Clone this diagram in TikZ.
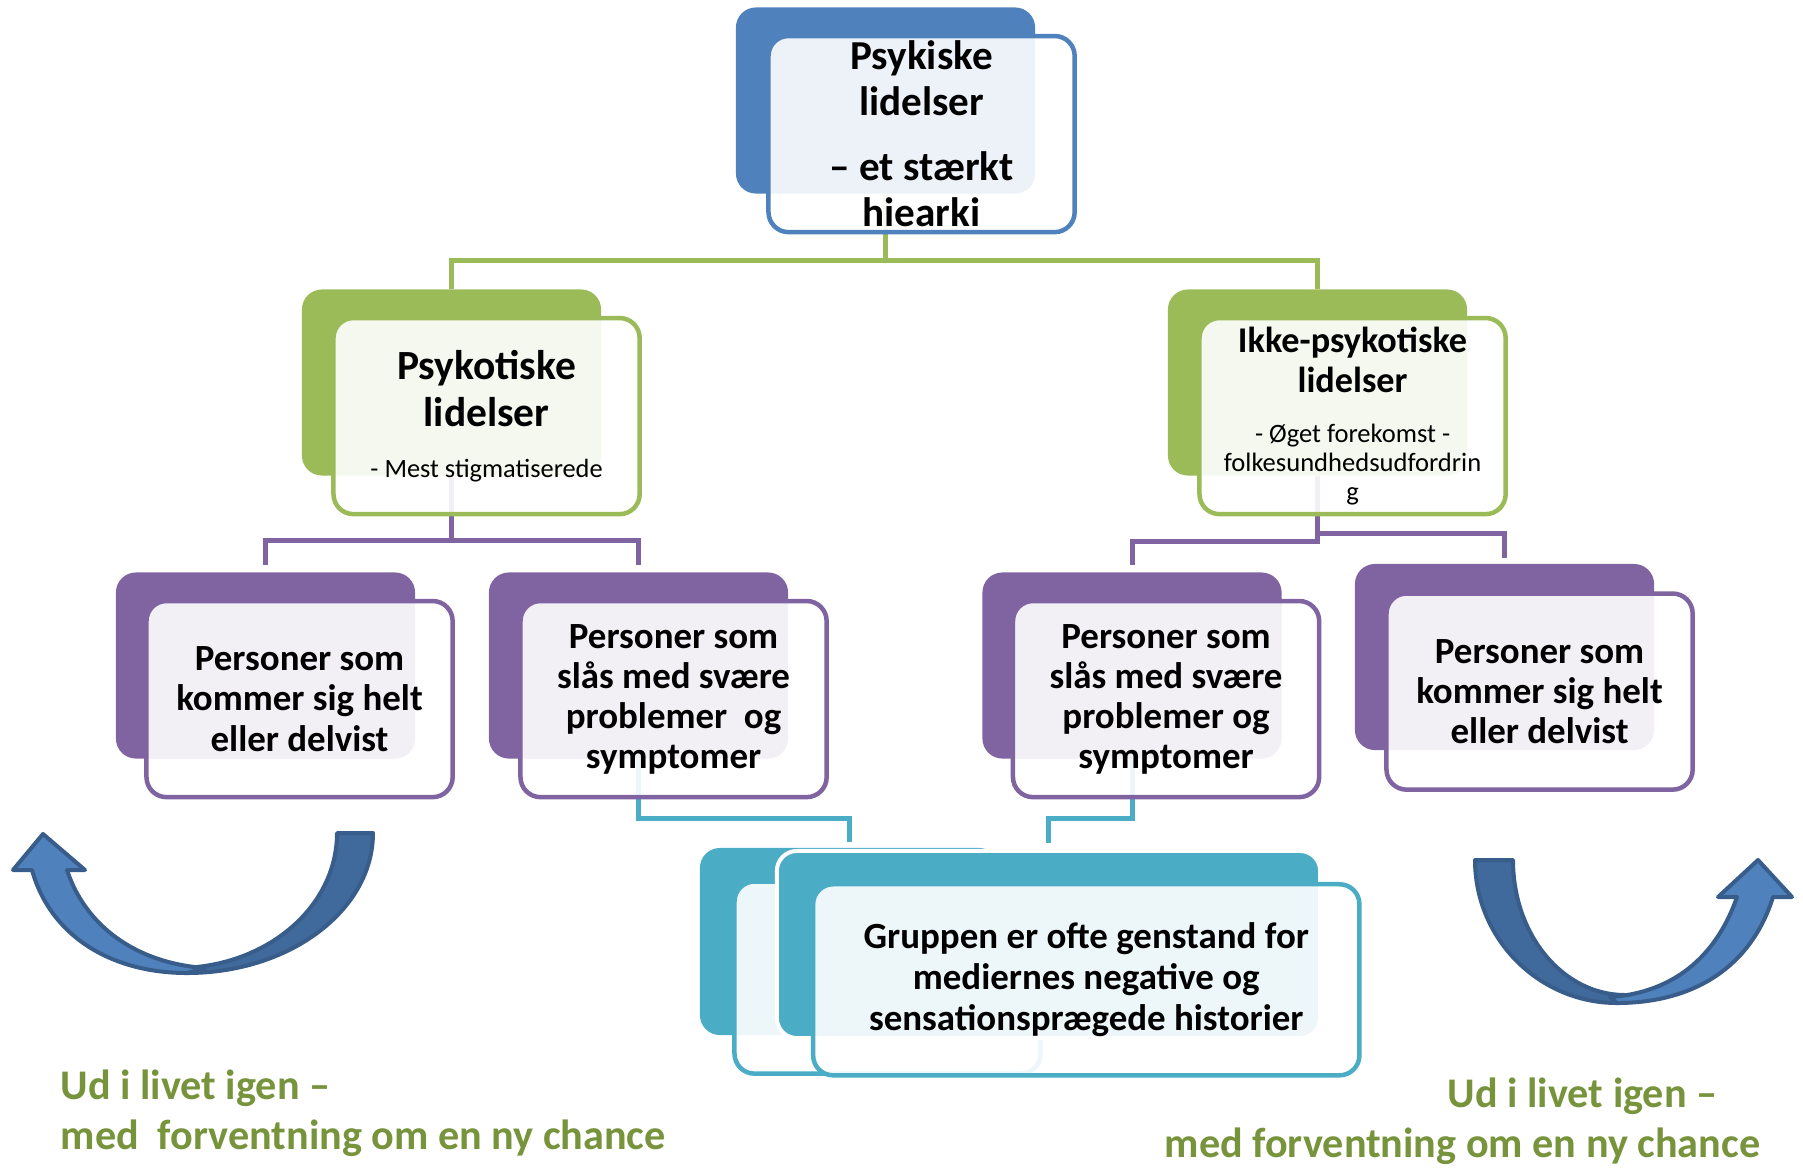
\documentclass[tikz,border=0pt]{standalone}
\usepackage{fontspec}
\setmainfont{Carlito}
\usetikzlibrary{positioning,backgrounds}

\definecolor{hblue}{HTML}{4F81BD}
\definecolor{hgreen}{HTML}{9BBB59}
\definecolor{hpurple}{HTML}{8064A2}
\definecolor{hcyan}{HTML}{4BACC6}
\definecolor{outgreen}{HTML}{77933C}
\definecolor{arrowdark}{HTML}{40699C}
\definecolor{arrowline}{HTML}{385D8A}

\tikzset{
  backbox/.style={rectangle, rounded corners=0.2cm, fill=#1, inner sep=0pt,
    minimum width=2.99cm, minimum height=1.86cm},
  frontbox/.style={rectangle, rounded corners=0.2cm, draw=#1, line width=0.045cm,
    fill=white, fill opacity=0.9, text opacity=1, inner sep=0pt,
    minimum width=3.06cm, minimum height=1.96cm, align=flush center, text width=3cm,
    font=\bfseries},
  conn/.style={draw=#1, line width=0.05cm},
  bendarrow/.style={fill=#1, draw=arrowline, line width=0.04cm, line join=round},
  outtxt/.style={inner sep=0pt, align=flush left, text=outgreen,
    font=\fontsize{12}{14.4}\selectfont\bfseries}
}

\begin{document}
\begin{tikzpicture}[x=0.01cm, y=-0.01cm]
\useasboundingbox (0,0) rectangle (1803,1169);

% top level
\node[backbox=hblue] (topB) at (885.5,100.5) {};
\node[frontbox=hblue, below right=0.27cm and 0.31cm of topB.north west,
  font=\fontsize{11.7}{13.1}\selectfont\bfseries] (topF)
  {Psykiske\\lidelser\\[0.19cm]– et stærkt\\hiearki};

% second level
\node[backbox=hgreen] (psyB) at (451.5,382.5) {};
\node[frontbox=hgreen, below right=0.27cm and 0.30cm of psyB.north west] (psyF)
  {{\fontsize{11.8}{13.3}\selectfont Psykotiske\\lidelser\par}\vspace{6pt}
   {\fontsize{7.5}{8.5}\selectfont\mdseries - Mest stigmatiserede\par}\vspace{-6pt}};

\node[backbox=hgreen] (ikkeB) at (1317.5,382.5) {};
\node[frontbox=hgreen, below right=0.27cm and 0.30cm of ikkeB.north west] (ikkeF)
  {{\fontsize{10.3}{11.5}\selectfont Ikke-psykotiske\\lidelser\par}\vspace{5.7pt}
   {\fontsize{7.55}{8.3}\selectfont\mdseries - Øget forekomst -\\folkesundhedsudfordrin\\g\par}};

% third level
\node[backbox=hpurple] (p1B) at (265.5,665.5) {};
\node[frontbox=hpurple, below right=0.27cm and 0.29cm of p1B.north west,
  font=\fontsize{10.5}{11.4}\selectfont\bfseries] (p1F)
  {Personer som\\kommer sig helt\\eller delvist};

\node[backbox=hpurple] (p2B) at (638.5,665.5) {};
\node[frontbox=hpurple, below right=0.27cm and 0.30cm of p2B.north west,
  font=\fontsize{10.5}{11.4}\selectfont\bfseries] (p2F)
  {Personer som\\slås med svære\\problemer~ og\\symptomer};

\node[backbox=hpurple] (p3B) at (1132,665.5) {};
\node[frontbox=hpurple, below right=0.27cm and 0.29cm of p3B.north west,
  font=\fontsize{10.5}{11.4}\selectfont\bfseries] (p3F)
  {Personer som\\slås med svære\\problemer og\\symptomer};

\node[backbox=hpurple] (p4B) at (1504.5,657) {};
\node[frontbox=hpurple, below right=0.28cm and 0.30cm of p4B.north west,
  font=\fontsize{10.5}{11.4}\selectfont\bfseries] (p4F)
  {Personer som\\kommer sig helt\\eller delvist};

% media group
\node[backbox=hcyan, minimum height=1.87cm] (m1B) at (849.5,941.5) {};
\node[frontbox=hcyan, minimum height=1.92cm, below right=0.32cm and 0.33cm of m1B.north west] (m1F) {};
\node[backbox=hcyan, draw=white, line width=0.04cm, minimum width=5.43cm,
  minimum height=1.87cm] (m2B) at (1048.5,944.5) {};
\node[frontbox=hcyan, minimum width=5.46cm, minimum height=1.91cm, text width=5.2cm,
  below right=0.33cm and 0.36cm of m2B.north west,
  font=\fontsize{10.5}{11.7}\selectfont\bfseries] (m2F)
  {Gruppen er ofte genstand for\\mediernes negative og\\sensationsprægede historier};

% connectors
\begin{pgfonlayer}{background}
  \draw[conn=hgreen] (topB.south) -- ++(0,66) -| (psyB.north);
  \draw[conn=hgreen] (topB.south) -- ++(0,66) -| (ikkeB.north);
  \draw[conn=hpurple] (psyB.south) -- ++(0,64) -| ([yshift=0.07cm]p1B.north);
  \draw[conn=hpurple] (psyB.south) -- ++(0,64) -| ([yshift=0.07cm]p2B.north);
  \draw[conn=hpurple] (ikkeB.south) -- ++(0,65) -| ([yshift=0.07cm]p3B.north);
  \draw[conn=hpurple] (ikkeB.south) -- ++(0,57) -| ([yshift=0.05cm]p4B.north);
  \draw[conn=hcyan] (p2B.south) -- ++(0,59) -| ([yshift=0.05cm]m1B.north);
  \draw[conn=hcyan] (p3B.south) -- ++(0,59) -| ([yshift=0.06cm]m2B.north);
\end{pgfonlayer}

% bent arrows
\draw[bendarrow=arrowdark] (337,833) -- (373,833) .. controls (373,910) and (290,973) .. (187,973)
  -- (177,968) .. controls (265,968) and (337,908) .. (337,833) -- cycle;
\draw[bendarrow=hblue] (13,870) -- (43,834) -- (85,870) -- (67,870)
  .. controls (85,925) and (135,963) .. (205,968) -- (187,973)
  .. controls (110,973) and (50,935) .. (32,870) -- cycle;

\draw[bendarrow=arrowdark] (1513,860) -- (1475,860) .. controls (1475,939) and (1539,1003) .. (1617,1003)
  -- (1625,995) .. controls (1563,995) and (1513,935) .. (1513,860) -- cycle;
\draw[bendarrow=hblue] (1792,897) -- (1758,860) -- (1718,897) -- (1737,897)
  .. controls (1715,960) and (1670,993) .. (1610,997) -- (1617,1003)
  .. controls (1690,1003) and (1750,970) .. (1773,897) -- cycle;

% texts under the arrows
\node[outtxt, anchor=north west] (outL) at (60,1069)
  {Ud i livet igen –\\med~~forventning om en ny chance};
\node[outtxt, anchor=north west] (outR) at (1164,1077)
  {\hspace*{2.83cm}Ud i livet igen –\\med forventning om en ny chance};
\end{tikzpicture}
\end{document}
